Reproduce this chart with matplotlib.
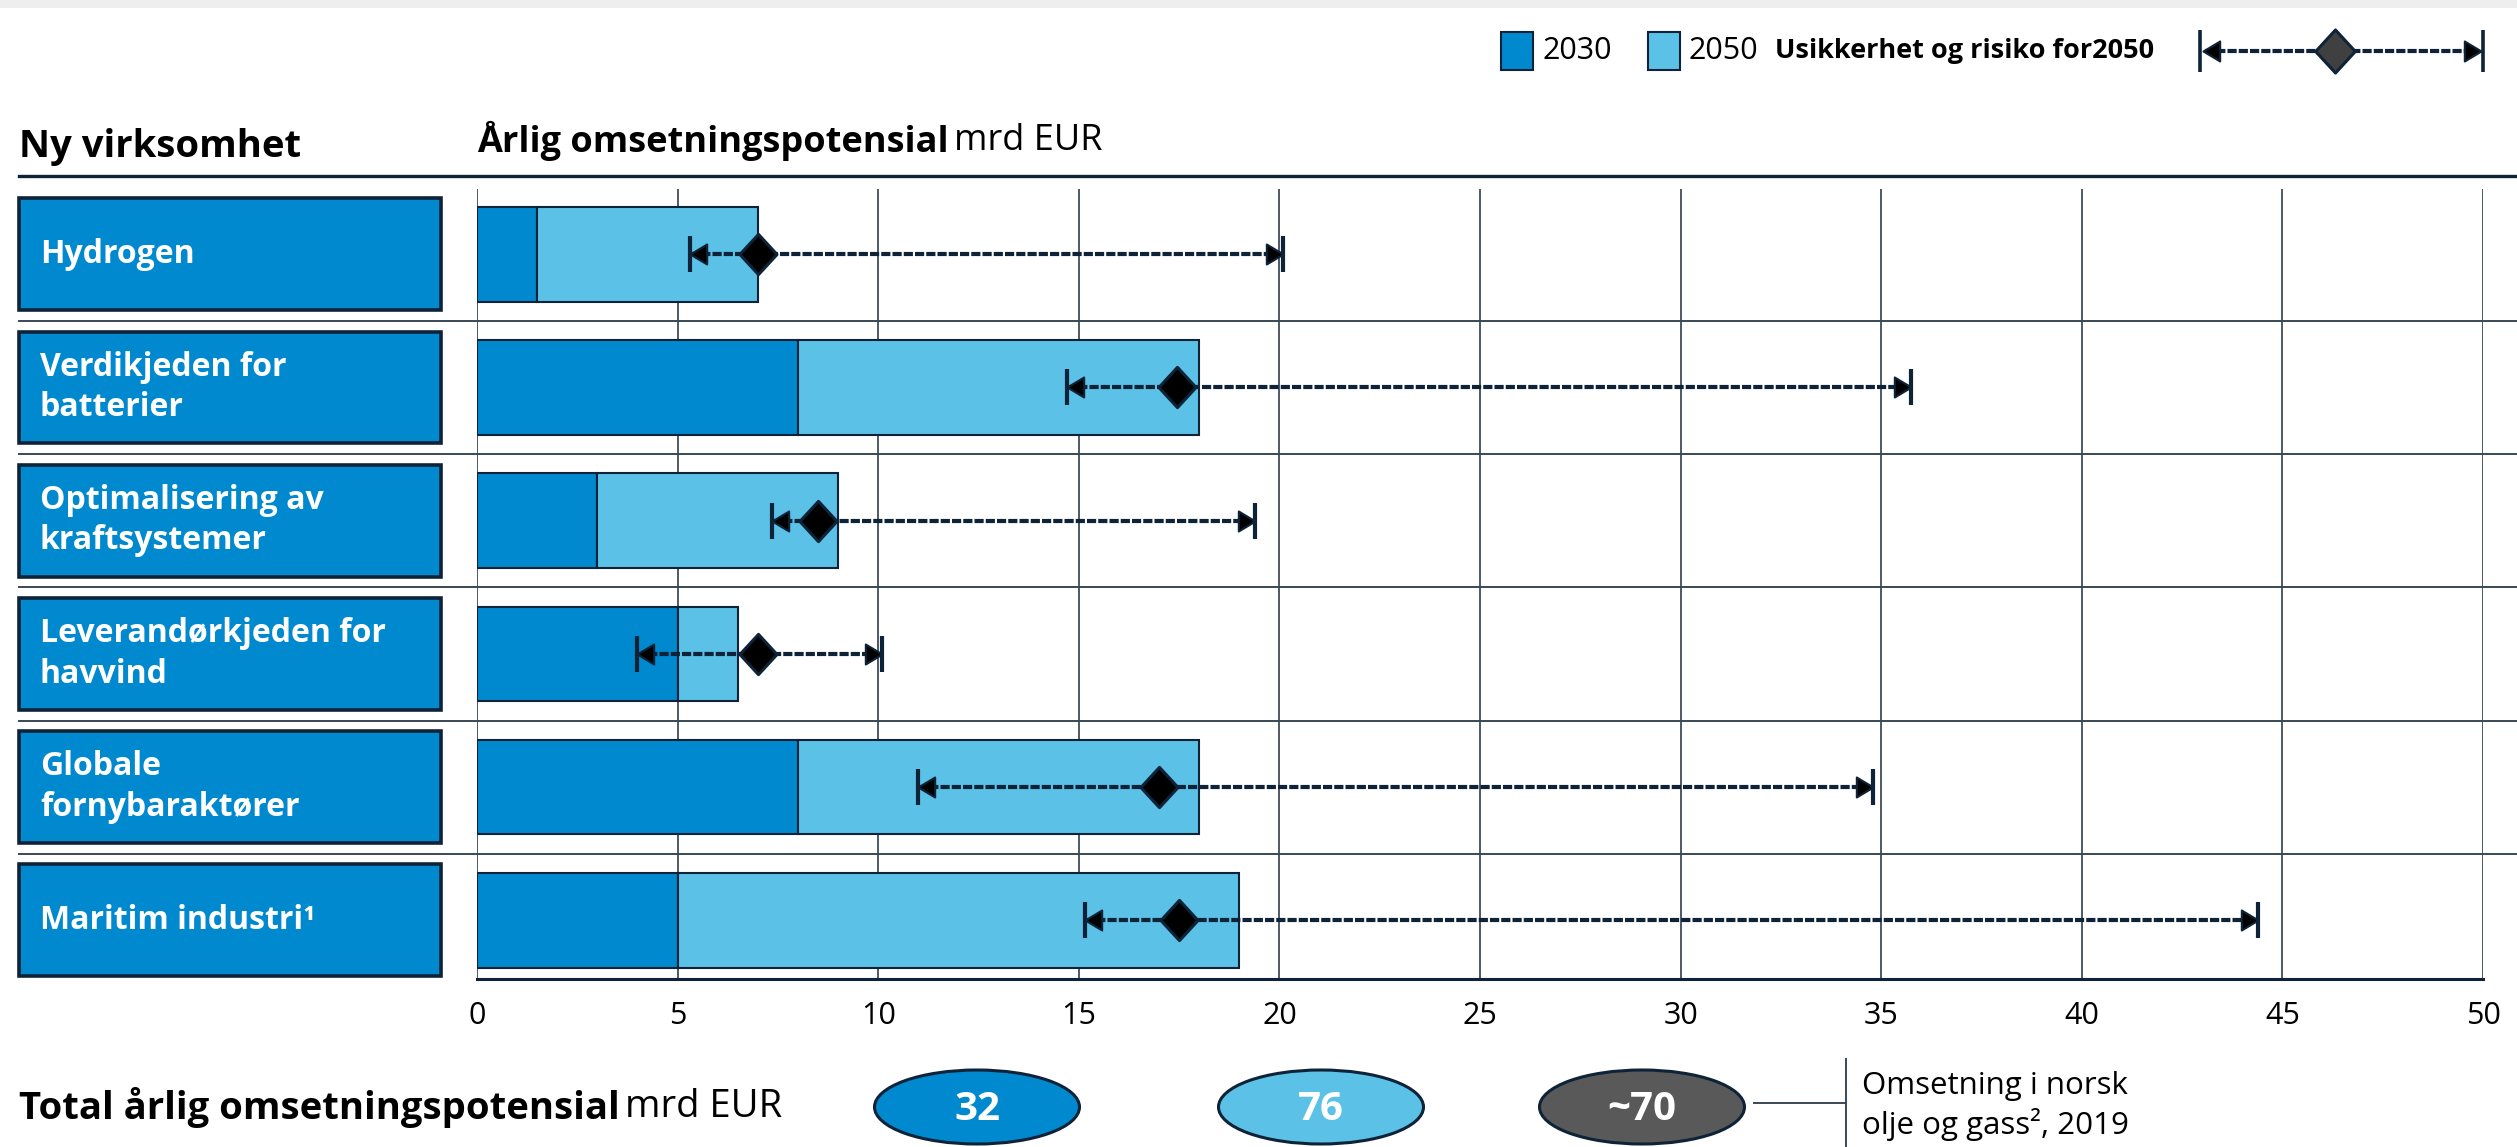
"""Ny virksomhet: annual revenue potential 2030/2050 with 2050 uncertainty range."""
import matplotlib
matplotlib.use("Agg")
import matplotlib.pyplot as plt
import matplotlib.transforms as mtransforms
from matplotlib.patches import Rectangle, Ellipse
from matplotlib.lines import Line2D
from matplotlib.markers import MarkerStyle
from matplotlib.path import Path
import numpy as np

plt.rcParams['font.family'] = ['Open Sans', 'DejaVu Sans']

# --- data -------------------------------------------------------------------
categories = ['Hydrogen', 'Verdikjeden for\nbatterier', 'Optimalisering av\nkraftsystemer',
              'Leverandørkjeden for\nhavvind', 'Globale\nfornybaraktører', 'Maritim industri¹']
val_2030 = [1.5, 8, 3, 5, 8, 5]
val_2050 = [7, 18, 9, 6.5, 18, 19]
risk_low = [5.3, 14.7, 7.35, 4.0, 11.0, 15.15]
risk_mid = [7.0, 17.45, 8.5, 7.0, 17.0, 17.5]
risk_high = [20.1, 35.75, 19.4, 10.1, 34.8, 44.4]
xticks = list(range(0, 55, 5))
totals = ['32', '76', '~70']
total_note = 'Omsetning i norsk\nolje og gass², 2019'

DARK = '#0089CE'
LIGHT = '#5BC1E6'
NAVY = '#0E2338'
GRAY = '#595959'
LINE = '#3A4856'

W, H = 2517, 1147
fig = plt.figure(figsize=(W / 100, H / 100), dpi=100)


def fx(px):
    return px / W


def fy(px):
    return 1 - px / H


# custom markers
left_head = MarkerStyle(Path([(0, 0), (1, 0.6), (1, -0.6), (0, 0)], closed=True))
right_head = MarkerStyle(Path([(0, 0), (-1, 0.6), (-1, -0.6), (0, 0)], closed=True))
diamond = MarkerStyle(Path([(0, 1), (0.92, 0), (0, -1), (-0.92, 0), (0, 1)], closed=True))
DASH = (0, (2.2, 0.5))

# top shadow strip
fig.add_artist(Rectangle((0, fy(8)), 1, 8 / H, transform=fig.transFigure,
                         facecolor='#EEEEEE', edgecolor='none'))

# --- main axes --------------------------------------------------------------
ax = fig.add_axes([fx(477), fy(979), fx(2483 - 477), (979 - 189) / H])
y = np.arange(len(categories))
ax.set_xlim(0, 50)
ax.set_ylim(5.44, -0.49)
ax.set_xticks(xticks)
ax.set_yticks([])
ax.tick_params(axis='x', length=0, pad=16, labelsize=22, labelcolor='black')
for s in ['top', 'left', 'right']:
    ax.spines[s].set_visible(False)
ax.spines['bottom'].set_color(NAVY)
ax.spines['bottom'].set_linewidth(2.2)
ax.grid(axis='x', color='#1E2C3A', linewidth=1.1, zorder=0)
ax.set_axisbelow(True)

v30 = np.array(val_2030)
v50 = np.array(val_2050)
ax.barh(y, v30, height=0.71, color=DARK, edgecolor=NAVY, linewidth=1.5, zorder=2)
ax.barh(y, v50 - v30, left=v30, height=0.71, color=LIGHT, edgecolor=NAVY,
        linewidth=1.5, zorder=2)

for yi, lo, mid, hi in zip(y, risk_low, risk_mid, risk_high):
    ax.plot([lo, hi], [yi, yi], color=NAVY, lw=3.0, ls=DASH,
            solid_capstyle='butt', zorder=4)
    ax.plot([lo], [yi], marker=left_head, ms=24, color='black', mec=NAVY, mew=1.5, zorder=5)
    ax.plot([hi], [yi], marker=right_head, ms=24, color='black', mec=NAVY, mew=1.5, zorder=5)
    ax.plot([lo, hi], [yi, yi], ls='none', marker='|', ms=26, mew=3.0, color=NAVY, zorder=5)
    ax.plot([mid], [yi], marker=diamond, ms=29, color='black', mec=NAVY, mew=2.2, zorder=6)

# left category boxes and row separators (x in figure, y in data)
blend = mtransforms.blended_transform_factory(fig.transFigure, ax.transData)
for yi, cat in zip(y, categories):
    ax.add_patch(Rectangle((fx(19), yi - 0.42), fx(441 - 19), 0.84, transform=blend,
                           facecolor=DARK, edgecolor=NAVY, linewidth=2.6, clip_on=False))
    ax.text(fx(40), yi, cat, transform=blend, color='white', fontsize=23,
            fontweight='bold', va='center', ha='left', linespacing=1.3)
for yi in y[:-1]:
    ax.add_line(Line2D([fx(19), 1], [yi + 0.5, yi + 0.5], transform=blend,
                       color=LINE, lw=1.4, clip_on=False, zorder=1))

# header
fig.add_artist(Line2D([fx(19), 1], [fy(176), fy(176)], transform=fig.transFigure,
                      color=NAVY, lw=2.4))
fig.text(fx(19), fy(147), 'Ny virksomhet', fontsize=27.5, fontweight='bold', va='center')
t = fig.text(fx(477), fy(141), 'Årlig omsetningspotensial', fontsize=26,
             fontweight='bold', va='center')
renderer = fig.canvas.get_renderer()
bb = t.get_window_extent(renderer)
fig.text(bb.x1 / W + 0.002, fy(141), 'mrd EUR', fontsize=26, va='center')

# legend
fig.add_artist(Rectangle((fx(1501), fy(70)), fx(32), 38 / H, transform=fig.transFigure,
                         facecolor=DARK, edgecolor=NAVY, lw=1.5))
fig.text(fx(1542), fy(51), '2030', fontsize=22, va='center')
fig.add_artist(Rectangle((fx(1648), fy(70)), fx(32), 38 / H, transform=fig.transFigure,
                         facecolor=LIGHT, edgecolor=NAVY, lw=1.5))
fig.text(fx(1689), fy(51), '2050', fontsize=22, va='center')
fig.text(fx(1775), fy(51), 'Usikkerhet og risiko for2050', fontsize=19.5,
         fontweight='bold', va='center')
fig.add_artist(Line2D([fx(2205), fx(2478)], [fy(51), fy(51)], transform=fig.transFigure,
                      color=NAVY, lw=3.0, ls=DASH))
fig.add_artist(Line2D([fx(2203)], [fy(51)], transform=fig.transFigure, marker=left_head,
                      ms=24, color='black', mec=NAVY, mew=1.5))
fig.add_artist(Line2D([fx(2481)], [fy(51)], transform=fig.transFigure, marker=right_head,
                      ms=24, color='black', mec=NAVY, mew=1.5))
fig.add_artist(Line2D([fx(2200), fx(2483)], [fy(51), fy(51)], transform=fig.transFigure,
                      ls='none', marker='|', ms=30, mew=2.6, color=NAVY))
fig.add_artist(Line2D([fx(2335)], [fy(51)], transform=fig.transFigure, marker=diamond,
                      ms=31, color='#404040', mec=NAVY, mew=2.2))

# bottom totals
t2 = fig.text(fx(19), fy(1107), 'Total årlig omsetningspotensial', fontsize=27.5,
              fontweight='bold', va='center')
bb2 = t2.get_window_extent(renderer)
fig.text(bb2.x1 / W + 0.002, fy(1107), 'mrd EUR', fontsize=27.5, va='center')
for cx, label, col in zip([977, 1321, 1642], totals, [DARK, LIGHT, GRAY]):
    fig.add_artist(Ellipse((fx(cx), fy(1107)), fx(205), 74 / H, transform=fig.transFigure,
                           facecolor=col, edgecolor=NAVY, lw=2.2))
    fig.text(fx(cx), fy(1109), label, fontsize=29, fontweight='bold', color='white',
             ha='center', va='center')
fig.add_artist(Line2D([fx(1754), fx(1846)], [fy(1103), fy(1103)],
                      transform=fig.transFigure, color=LINE, lw=1.4))
fig.add_artist(Line2D([fx(1846), fx(1846)], [fy(1059), fy(1147)],
                      transform=fig.transFigure, color=LINE, lw=1.4))
fig.text(fx(1862), fy(1106), total_note, fontsize=22.5, va='center', linespacing=1.25)

fig.savefig('out.png', dpi=100)
